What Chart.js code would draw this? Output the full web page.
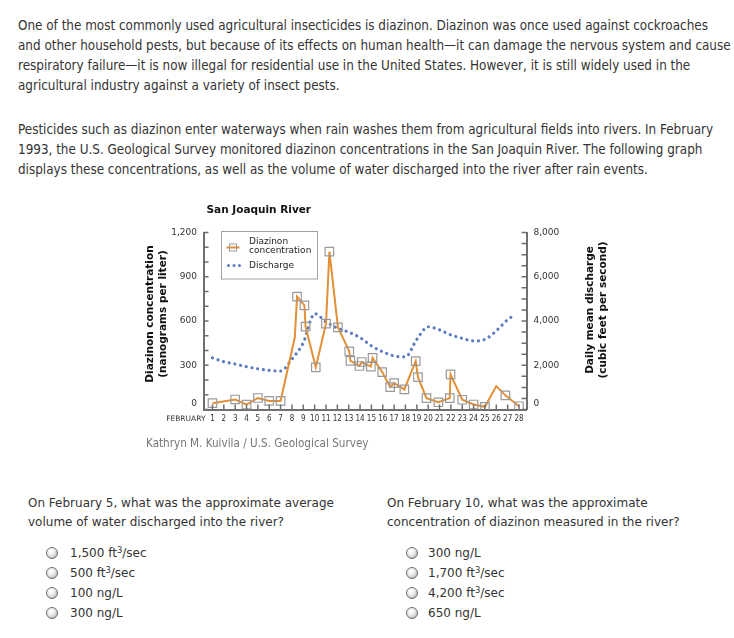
<!DOCTYPE html>
<html>
<head>
<meta charset="utf-8">
<script src="https://cdn.jsdelivr.net/npm/chart.js@4.4.1/dist/chart.umd.min.js"></script>
<style>
  html, body { margin:0; padding:0; background:#fff; }
  body { width:734px; height:638px; position:relative; overflow:hidden; color:#333; }
  .para { position:absolute; left:18px; font-family:"DejaVu Sans Condensed","DejaVu Sans",sans-serif; font-size:13.35px; line-height:20px; white-space:nowrap; }
  .q { position:absolute; font-family:"DejaVu Sans",sans-serif; font-size:12px; line-height:19px; white-space:nowrap; }
  .opt { position:absolute; font-family:"DejaVu Sans",sans-serif; font-size:12px; line-height:20px; white-space:nowrap; }
  .radio { position:absolute; width:10px; height:10px; border-radius:50%; border:1px solid #6e6e6e;
           background: radial-gradient(circle at 38% 32%, #ffffff 0%, #eeeeee 40%, #b5b5b5 85%, #9a9a9a 100%); }
  .src { position:absolute; left:146px; top:435px; font-family:"DejaVu Sans Condensed","DejaVu Sans",sans-serif; font-size:11.6px; color:#777; white-space:nowrap; line-height:16px; }
  #chartWrap { position:absolute; left:130px; top:195px; width:490px; height:260px; }
  sup { font-size:0.7em; vertical-align:0.45em; line-height:0; }
</style>
</head>
<body>
<div class="para" style="top:16px;">One of the most commonly used agricultural insecticides is diazinon. Diazinon was once used against cockroaches<br>and other household pests, but because of its effects on human health—it can damage the nervous system and cause<br>respiratory failure—it is now illegal for residential use in the United States. However, it is still widely used in the<br>agricultural industry against a variety of insect pests.</div>
<div class="para" style="top:120px;">Pesticides such as diazinon enter waterways when rain washes them from agricultural fields into rivers. In February<br>1993, the U.S. Geological Survey monitored diazinon concentrations in the San Joaquin River. The following graph<br>displays these concentrations, as well as the volume of water discharged into the river after rain events.</div>

<div id="chartWrap"><canvas id="c" width="490" height="260"></canvas></div>
<div class="src">Kathryn M. Kuivila / U.S. Geological Survey</div>

<div class="q" style="left:28px; top:494px;">On February 5, what was the approximate average<br>volume of water discharged into the river?</div>
<div class="q" style="left:387px; top:494px;">On February 10, what was the approximate<br>concentration of diazinon measured in the river?</div>

<div class="radio" style="left:46px; top:547px;"></div><div class="opt" style="left:70px; top:543px;">1,500 ft<sup>3</sup>/sec</div>
<div class="radio" style="left:46px; top:567px;"></div><div class="opt" style="left:70px; top:563px;">500 ft<sup>3</sup>/sec</div>
<div class="radio" style="left:46px; top:587px;"></div><div class="opt" style="left:70px; top:583px;">100 ng/L</div>
<div class="radio" style="left:46px; top:607px;"></div><div class="opt" style="left:70px; top:603px;">300 ng/L</div>

<div class="radio" style="left:406px; top:547px;"></div><div class="opt" style="left:428px; top:543px;">300 ng/L</div>
<div class="radio" style="left:406px; top:567px;"></div><div class="opt" style="left:428px; top:563px;">1,700 ft<sup>3</sup>/sec</div>
<div class="radio" style="left:406px; top:587px;"></div><div class="opt" style="left:428px; top:583px;">4,200 ft<sup>3</sup>/sec</div>
<div class="radio" style="left:406px; top:607px;"></div><div class="opt" style="left:428px; top:603px;">650 ng/L</div>

<script>
// ---- data ----
const chartTitle = "San Joaquin River";
const dayTicks = [1,2,3,4,5,6,7,8,9,10,11,12,13,14,15,16,17,18,19,20,21,22,23,24,25,26,27,28];
const concDays   = [1, 3, 4, 5, 6, 7, 8.25, 8.45, 9.1, 9.2, 10.1, 11.0, 11.3, 12.05, 13.05, 13.15, 13.95, 14.15, 14.95, 15.1, 15.95, 16.65, 17.0, 17.9, 18.9, 19.1, 19.85, 20.9, 21.9, 21.97, 23.0, 24.0, 25.0, 26.0, 26.8, 28.0];
const concValues = [43, 68, 33, 78, 58, 58, 488, 765, 706, 562, 286, 582, 1070, 557, 394, 330, 295, 322, 291, 350, 254, 152, 179, 136, 328, 219, 77, 49, 77, 238, 66, 34, 18, 159, 96, 22];
const concSampled = [1,1,1,1,1,1,0,1,1,1,1,1,1,1,1,1,1,1,1,1,1,1,1,1,1,1,1,1,1,1,1,1,1,0,1,1];
const dischDays   = [1, 2, 3, 4, 5, 6, 7, 8, 9, 10, 11, 12, 13, 14, 15, 16, 17, 18, 19, 20, 21, 22, 23, 24, 25, 26, 27, 27.55];
const dischValues = [2330, 2160, 2055, 1937, 1838, 1770, 1740, 2280, 3020, 4330, 3960, 3680, 3495, 3250, 2873, 2607, 2420, 2380, 3170, 3740, 3600, 3370, 3220, 3100, 3170, 3560, 4060, 4250];
const concLabel = ["Diazinon", "concentration"];
const dischLabel = "Discharge";
const leftTitle = ["Diazinon concentration", "(nanograms per liter)"];
const rightTitle = ["Daily mean discharge", "(cubic feet per second)"];
const xLead = "FEBRUARY";
const zeroLabel = "0";

const ORANGE = '#e38f35', BLUE = '#5c7cbf', SQ = '#9a9a9a', AXIS = '#6f6f6f', TXT = '#333';
const FONT = '"DejaVu Sans", sans-serif';
const FONTC = '"DejaVu Sans Condensed", "DejaVu Sans", sans-serif';

const decor = {
  id: 'decor',
  afterDraw(chart) {
    const {ctx, chartArea: ca, scales} = chart;
    const sx = scales.x, sy = scales.y, sy2 = scales.y2;
    ctx.save();
    // inward tick marks
    ctx.strokeStyle = AXIS; ctx.lineWidth = 1.5;
    ctx.beginPath();
    sx.ticks.forEach(t => { const p = sx.getPixelForValue(t.value); ctx.moveTo(p, ca.bottom); ctx.lineTo(p, ca.bottom - 5); });
    sy.ticks.forEach(t => { const p = sy.getPixelForValue(t.value); ctx.moveTo(ca.left, p); ctx.lineTo(ca.left + 5, p); });
    sy2.ticks.forEach(t => { const p = sy2.getPixelForValue(t.value); ctx.moveTo(ca.right, p); ctx.lineTo(ca.right - 5, p); });
    ctx.stroke();

    // zero labels sit a little above the axis line in the reference
    ctx.fillStyle = TXT;
    ctx.font = '9px ' + FONT;
    ctx.textBaseline = 'middle';
    ctx.textAlign = 'right';
    ctx.fillText(zeroLabel, ca.left - 6.5, sy.getPixelForValue(0) - 6);
    ctx.textAlign = 'left';
    ctx.fillText(zeroLabel, ca.right + 7, sy2.getPixelForValue(0) - 6);

    // chart title
    ctx.fillStyle = '#111';
    ctx.font = 'bold 10.5px ' + FONT;
    ctx.textAlign = 'left';
    ctx.fillText(chartTitle, 76.5, 15);

    // FEBRUARY
    ctx.font = '7.5px ' + FONT;
    ctx.fillStyle = TXT;
    ctx.textAlign = 'right';
    ctx.fillText(xLead, ca.left + 2, ca.bottom + 9.5);

    // axis titles (rotated, reading bottom to top)
    ctx.font = 'bold 10.5px ' + FONT;
    ctx.fillStyle = '#111';
    ctx.textAlign = 'center';
    const drawRot = (txt, x, y) => { ctx.save(); ctx.translate(x, y); ctx.rotate(-Math.PI / 2); ctx.fillText(txt, 0, 0); ctx.restore(); };
    drawRot(leftTitle[0], 20, 119);
    drawRot(leftTitle[1], 33, 119);
    drawRot(rightTitle[0], 460, 115);
    drawRot(rightTitle[1], 473, 115);

    // legend box
    const lx = 91.5, ly = 36.5, lw = 96, lh = 47.5;
    ctx.fillStyle = '#fff';
    ctx.fillRect(lx, ly, lw, lh);
    ctx.strokeStyle = '#a0a0a0'; ctx.lineWidth = 1;
    ctx.strokeRect(lx, ly, lw, lh);
    // diazinon sample
    ctx.strokeStyle = ORANGE; ctx.lineWidth = 2;
    ctx.beginPath(); ctx.moveTo(96.5, 52.5); ctx.lineTo(109.5, 52.5); ctx.stroke();
    ctx.strokeStyle = SQ; ctx.lineWidth = 1;
    ctx.strokeRect(99.5, 49, 7, 7);
    // discharge sample
    ctx.fillStyle = BLUE;
    [98.5, 104, 109.5].forEach(x => { ctx.beginPath(); ctx.arc(x, 70.5, 1.5, 0, Math.PI * 2); ctx.fill(); });
    ctx.fillStyle = '#222';
    ctx.font = '9px ' + FONT;
    ctx.textAlign = 'left';
    ctx.fillText(concLabel[0], 119, 46.5);
    ctx.fillText(concLabel[1], 119, 55.5);
    ctx.fillText(dischLabel, 119, 70.5);
    ctx.restore();
  }
};

const fmt = v => v.toLocaleString('en-US');

new Chart(document.getElementById('c'), {
  type: 'line',
  data: {
    datasets: [
      {
        label: concLabel.join(' '),
        yAxisID: 'y',
        data: concDays.map((d, i) => ({x: d, y: concValues[i]})),
        borderColor: ORANGE,
        borderWidth: 2,
        tension: 0,
        pointStyle: 'rect',
        pointRadius: concSampled.map(s => s ? 6 : 0),
        pointBorderColor: SQ,
        pointBackgroundColor: 'rgba(0,0,0,0)',
        pointBorderWidth: 1.2,
        order: 0
      },
      {
        label: dischLabel,
        yAxisID: 'y2',
        data: dischDays.map((d, i) => ({x: d, y: dischValues[i]})),
        borderColor: BLUE,
        borderWidth: 3.2,
        borderDash: [0.01, 5.8],
        borderCapStyle: 'round',
        cubicInterpolationMode: 'monotone',
        pointRadius: 0,
        order: 1
      }
    ]
  },
  options: {
    responsive: false,
    animation: false,
    devicePixelRatio: 1,
    layout: { padding: { top: 37.5, left: 0, right: 0, bottom: 0 } },
    plugins: { legend: { display: false }, tooltip: { enabled: false }, title: { display: false } },
    scales: {
      x: {
        type: 'linear', position: 'bottom', min: 0.21, max: 28.66,
        afterBuildTicks: s => { s.ticks = dayTicks.map(v => ({value: v})); },
        afterFit: s => { s.height = 45.5; },
        grid: { display: false, drawTicks: false },
        border: { color: AXIS, width: 2 },
        ticks: { autoSkip: false, maxRotation: 0, padding: 5, color: TXT, font: { family: FONTC, size: 8 }, callback: v => String(v) }
      },
      y: {
        position: 'left', min: 0, max: 1200,
        afterBuildTicks: s => { const t = []; for (let v = 0; v <= 1200; v += 100) t.push({value: v}); s.ticks = t; },
        afterFit: s => { s.width = 73.5; },
        grid: { display: false, drawTicks: false },
        border: { color: AXIS, width: 2 },
        ticks: { autoSkip: false, padding: 6.5, color: TXT, font: { family: FONT, size: 9 }, callback: v => (v !== 0 && v % 300 === 0 ? fmt(v) : '') }
      },
      y2: {
        position: 'right', min: 0, max: 8000,
        afterBuildTicks: s => { const t = []; for (let v = 0; v <= 8000; v += 500) t.push({value: v}); s.ticks = t; },
        afterFit: s => { s.width = 93.5; },
        grid: { display: false, drawTicks: false },
        border: { color: AXIS, width: 2 },
        ticks: { autoSkip: false, padding: 7, color: TXT, font: { family: FONT, size: 9 }, callback: v => (v !== 0 && v % 2000 === 0 ? fmt(v) : '') }
      }
    }
  },
  plugins: [decor]
});
</script>
</body>
</html>
